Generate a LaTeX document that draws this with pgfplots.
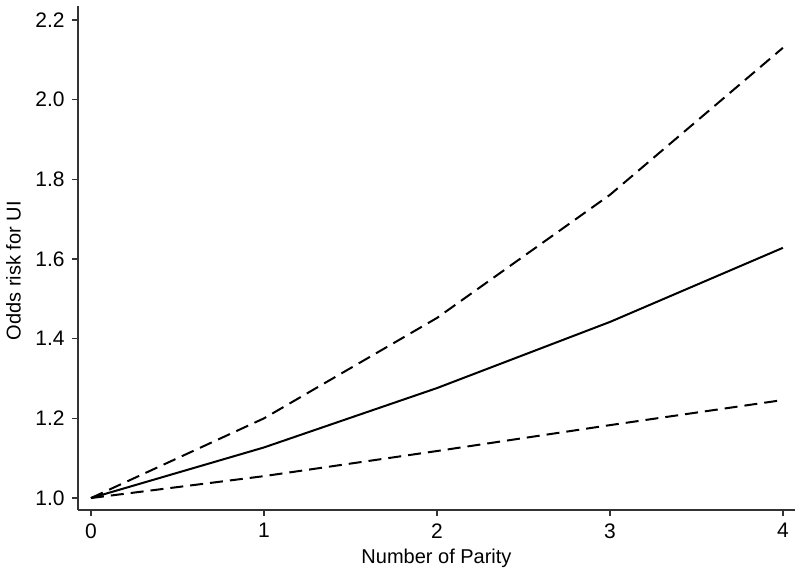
\documentclass[border=0pt]{standalone}
\usepackage{fontspec}
\setmainfont{Liberation Sans}
\usepackage{pgfplots}
\pgfplotsset{compat=1.18}
\begin{document}
\fontsize{10.5}{13}\selectfont
\begin{tikzpicture}
\useasboundingbox (0,0) rectangle (400pt,285pt);
\begin{axis}[
  at={(39pt,30pt)}, anchor=south west,
  scale only axis, width=358.5pt, height=252pt,
  xmin=-0.075, xmax=4.07, ymin=0.97, ymax=2.235,
  axis lines=left, axis line style={-, line width=0.8pt, draw=black!80},
  tick align=outside, major tick length=3pt,
  tick style={line width=0.8pt, draw=black!80},
  xtick={0,1,2,3,4}, ytick={1.0,1.2,1.4,1.6,1.8,2.0,2.2},
  yticklabel style={/pgf/number format/fixed, /pgf/number format/fixed zerofill, /pgf/number format/precision=1},
  /pgf/number format/assume math mode=true,
  ticklabel style={font=\fontsize{10.5}{13}\selectfont},
  xticklabel style={yshift=-2.5pt, inner sep=1pt},
  xlabel={Number of Parity}, ylabel={Odds risk for UI},
  label style={font=\fontsize{10}{12}\selectfont},
  xlabel style={at={(axis description cs:0.5,-0.096)}, anchor=center, inner sep=1pt},
  ylabel style={at={(axis description cs:-0.09,0.475)}, anchor=center},
]
\addplot[black, line width=1pt] coordinates {(0,1) (1,1.127) (2,1.276) (3,1.442) (4,1.628)};
\addplot[black, line width=1pt, dash pattern=on 6.5pt off 3.5pt] coordinates {(0,1) (1,1.20) (2,1.452) (3,1.761) (4,2.13)};
\addplot[black, line width=1pt, dash pattern=on 6.5pt off 3.5pt] coordinates {(0,1) (1,1.055) (2,1.118) (3,1.183) (4,1.246)};
\end{axis}
\end{tikzpicture}
\end{document}
